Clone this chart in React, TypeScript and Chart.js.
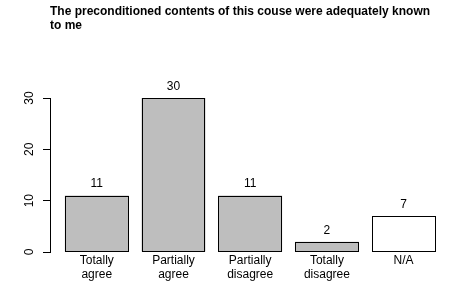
import React, { useEffect, useRef } from "react";
import { Chart, registerables } from "chart.js";

Chart.register(...registerables);

const titleLines = [
  "The preconditioned contents of this couse were adequately known",
  "to me",
];
const categories = [
  ["Totally", "agree"],
  ["Partially", "agree"],
  ["Partially", "disagree"],
  ["Totally", "disagree"],
  ["N/A"],
];
const values = [11, 30, 11, 2, 7];
const barColors = ["#bebebe", "#bebebe", "#bebebe", "#bebebe", "#ffffff"];
const yTicks = [0, 10, 20, 30];

const FONT = "'Liberation Sans', Arial, Helvetica, sans-serif";

// R barplot geometry: width 1, space 0.2
const SPACE = 0.2;
const centers = values.map((_, i) => SPACE + i * (1 + SPACE) + 0.5);
const xLo = SPACE;
const xHi = values.length * (1 + SPACE);
const ext = (xHi - xLo) * 0.04;

const labelsPlugin = {
  id: "rLabels",
  afterDatasetsDraw(chart: any) {
    const ctx = chart.ctx;
    const meta = chart.getDatasetMeta(0);
    ctx.save();
    ctx.strokeStyle = "#000";
    ctx.lineWidth = 1;
    meta.data.forEach((bar: any) => {
      const p = bar.getProps(["x", "y", "base", "width"], true);
      const l = Math.round(p.x - p.width / 2) + 0.5;
      const r = Math.round(p.x + p.width / 2) - 0.5;
      const t = Math.round(p.y) + 0.5;
      const b = Math.round(p.base) - 0.5;
      ctx.strokeRect(l, t, r - l, b - t);
    });
    ctx.restore();
  },
  afterDraw(chart: any) {
    const ctx = chart.ctx;
    const y = chart.scales.y;
    ctx.save();
    ctx.fillStyle = "#000";
    ctx.font = `12px ${FONT}`;
    ctx.textAlign = "center";
    ctx.textBaseline = "middle";
    yTicks.forEach((v) => {
      const py = y.getPixelForValue(v);
      ctx.save();
      ctx.translate(30, py);
      ctx.rotate(-Math.PI / 2);
      ctx.fillText(String(v), 0, 0);
      ctx.restore();
    });
    const meta = chart.getDatasetMeta(0);
    meta.data.forEach((bar: any, i: number) => {
      ctx.fillText(String(values[i]), bar.x, bar.y - 11.5);
    });
    ctx.restore();
  },
};

export default function App() {
  const ref = useRef<HTMLCanvasElement>(null);
  useEffect(() => {
    if (!ref.current) return;
    const chart = new Chart(ref.current, {
      type: "bar",
      data: {
        datasets: [
          {
            data: values.map((v, i) => ({ x: centers[i], y: v })),
            backgroundColor: barColors,
            borderWidth: 0,
            categoryPercentage: 1,
            barPercentage: 1 / (1 + SPACE),
          },
        ],
      },
      options: {
        responsive: false,
        animation: false,
        layout: { padding: { left: 0, right: 18.6, top: 0, bottom: 0 } },
        plugins: {
          legend: { display: false },
          tooltip: { enabled: false },
          title: {
            display: true,
            text: titleLines,
            align: "start",
            fullSize: false,
            color: "#000",
            font: { family: FONT, size: 12, weight: "bold", lineHeight: 1.2 },
            padding: { top: 4.5, bottom: 64.7 },
          },
        },
        scales: {
          x: {
            type: "linear",
            offset: false,
            min: xLo - ext,
            max: xHi + ext,
            grid: { display: false, drawTicks: false, offset: false },
            border: { display: false },
            afterBuildTicks: (scale: any) => {
              scale.ticks = centers.map((v) => ({ value: v }));
            },
            afterFit: (scale: any) => {
              scale.height = 34;
            },
            ticks: {
              autoSkip: false,
              maxRotation: 0,
              minRotation: 0,
              padding: 1,
              color: "#000",
              font: { family: FONT, size: 12, lineHeight: 1.2 },
              callback: (_v: any, i: number) => categories[i],
            },
          },
          y: {
            min: 0,
            max: 30,
            ticks: { display: false, stepSize: 10 },
            grid: {
              drawOnChartArea: false,
              drawTicks: true,
              tickLength: 7,
              color: "#000",
            },
            border: { display: true, color: "#000", width: 1 },
            afterFit: (scale: any) => {
              scale.width = 50;
            },
          },
        },
      },
      plugins: [labelsPlugin],
    });
    return () => chart.destroy();
  }, []);
  return (
    <div
      style={{
        position: "fixed",
        left: 0,
        top: 0,
        width: 469,
        height: 286,
        background: "#fff",
      }}
    >
      <canvas ref={ref} width={469} height={286} />
    </div>
  );
}
